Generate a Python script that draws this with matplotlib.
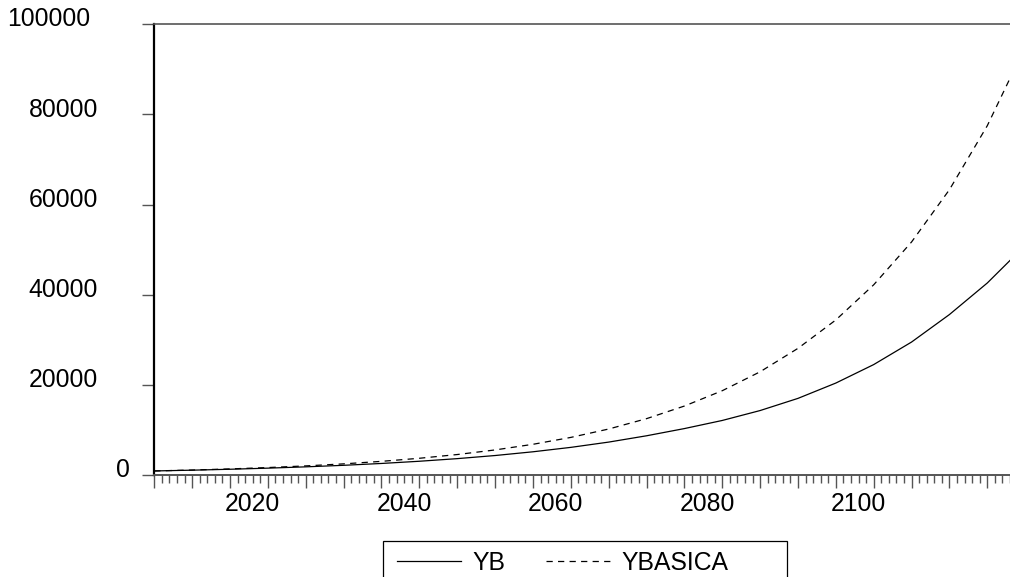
import matplotlib
matplotlib.use("Agg")
import matplotlib.pyplot as plt
import matplotlib.transforms as mtransforms
from matplotlib.ticker import FixedLocator, FuncFormatter
from matplotlib.patches import Rectangle

# ---- data ----
years = [2007, 2012, 2017, 2022, 2027, 2032, 2037, 2042, 2047, 2052, 2057, 2062,
         2067, 2072, 2077, 2082, 2087, 2092, 2097, 2102, 2107, 2112, 2117, 2120]
yb = [900, 1070, 1275, 1520, 1810, 2150, 2560, 3050, 3630, 4320, 5150, 6130,
      7300, 8700, 10300, 12100, 14300, 17000, 20400, 24500, 29500, 35600, 42600, 47600]
ybasica = [900, 1100, 1350, 1650, 2020, 2470, 3030, 3710, 4540, 5560, 6810, 8340,
           10200, 12500, 15300, 18700, 22900, 28100, 34400, 42200, 51700, 63300, 77500, 88000]
series_names = ["YB", "YBASICA"]
xtick_labels = [2020, 2040, 2060, 2080, 2100]
ytick_values = [0, 20000, 40000, 60000, 80000, 100000]
ytick_text = ["0", "20000", "40000", "60000", "80000", "100000"]

plt.rcParams['font.family'] = ['Liberation Sans', 'DejaVu Sans']
plt.rcParams['lines.scale_dashes'] = False

W, H = 1010, 577
fig = plt.figure(figsize=(W / 100, H / 100), dpi=100)
L, R, T, B = 154.3, 1010, 24.3, 475
ax = fig.add_axes([L / W, (H - B) / H, (R - L) / W, (B - T) / H])

ax.plot(years, yb, color='black', lw=0.9, label=series_names[0])
ax.plot(years, ybasica, color='black', lw=0.9, linestyle=(0, (4.5, 3.8)),
        label=series_names[1])

ax.set_xlim(2007, 2120)
ax.set_ylim(0, 100000)

tick_gray = '#555555'
# spines
ax.spines['right'].set_visible(False)
ax.spines['top'].set_color(tick_gray)
ax.spines['top'].set_linewidth(1.2)
ax.spines['bottom'].set_color(tick_gray)
ax.spines['bottom'].set_linewidth(1.4)
ax.spines['left'].set_color('black')
ax.spines['left'].set_linewidth(1.6)

# x ticks: long ticks every 5 obs from start, short ticks every year
ax.xaxis.set_major_locator(FixedLocator(list(range(2007, 2121, 5))))
ax.xaxis.set_minor_locator(FixedLocator(list(range(2007, 2121))))
ax.xaxis.set_major_formatter(FuncFormatter(lambda v, p: ''))
ax.xaxis.set_minor_formatter(
    FuncFormatter(lambda v, p: str(int(round(v))) if int(round(v)) in xtick_labels else ''))
ax.tick_params(axis='x', which='major', direction='out', length=9.4, width=1.0,
               color=tick_gray)
ax.tick_params(axis='x', which='minor', direction='out', length=5.8, width=1.0,
               color=tick_gray, labelsize=17.8, pad=6.5, labelcolor='black')

# y ticks
ax.set_yticks(ytick_values)
ax.set_yticklabels([])
ax.tick_params(axis='y', which='major', direction='out', length=8.6, width=1.0,
               color=tick_gray)

# y tick labels placed as in the reference
right_edges = {"0": 130, "20000": 98, "40000": 98, "60000": 98, "80000": 98, "100000": 90}
base = mtransforms.blended_transform_factory(fig.transFigure, ax.transData)
for v, t in zip(ytick_values, ytick_text):
    tr = mtransforms.offset_copy(base, fig=fig, x=0, y=-1.5, units='points')
    fig.text(right_edges[t] / W, v, t, transform=tr, ha='right', va='baseline',
             fontsize=17.8, color='black')

# legend
leg = fig.legend(loc='center left', bbox_to_anchor=(396.7 / W, (H - 562.5) / H),
                 ncol=2, frameon=False, fontsize=17.8, handlelength=2.6,
                 handletextpad=0.45, columnspacing=1.65, borderpad=0,
                 borderaxespad=0)
fig.patches.append(Rectangle((382.7 / W, (H - 590) / H), (787.3 - 382.7) / W,
                             (590 - 540.7) / H, transform=fig.transFigure,
                             fill=False, edgecolor='black', lw=0.9))

fig.savefig('out.png', dpi=100)
